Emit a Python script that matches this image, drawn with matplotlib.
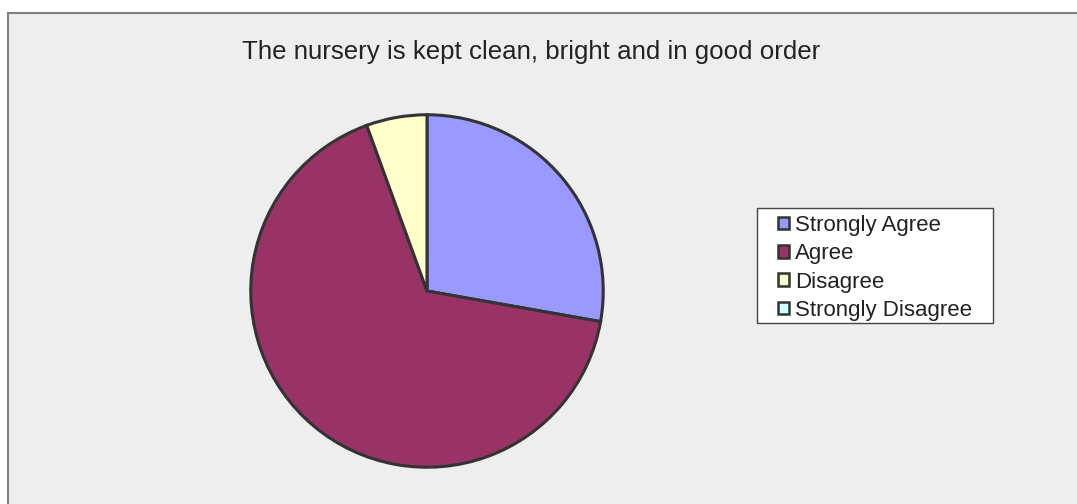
import matplotlib
matplotlib.use('Agg')
import matplotlib.pyplot as plt
from matplotlib.patches import Rectangle, Patch

plt.rcParams['font.family'] = ['Liberation Sans', 'DejaVu Sans']

# data
labels = ['Strongly Agree', 'Agree', 'Disagree', 'Strongly Disagree']
counts = [5, 12, 1, 0]
colors = ['#9999FF', '#993366', '#FFFFCC', '#CCFFFF']
title = 'The nursery is kept clean, bright and in good order'

W, H = 1077, 504
fig = plt.figure(figsize=(W / 100, H / 100), dpi=100)
fig.patch.set_facecolor('white')

# grey chart area
fig.patches.append(Rectangle((8 / W, -0.01), 1.0, (H - 13) / H + 0.01,
                             transform=fig.transFigure, facecolor='#EEEEEE',
                             edgecolor='#808080', linewidth=1.5, zorder=-5))

fig.text(531 / W, 1 - 52 / H, title, ha='center', va='center',
         fontsize=18.6, color='#222222')

# pie
cx, cy, r = 427, 291, 178
ax = fig.add_axes([(cx - r) / W, (H - cy - r) / H, 2 * r / W, 2 * r / H])
vals = [c for c in counts if c > 0]
cols = [colors[i] for i, c in enumerate(counts) if c > 0]
ax.pie(vals, colors=cols, startangle=90, counterclock=False, radius=1,
       wedgeprops=dict(edgecolor='#333333', linewidth=2.2))
ax.set_xlim(-1.01, 1.01)
ax.set_ylim(-1.01, 1.01)
ax.set_aspect('equal')
ax.axis('off')

# legend box
fig.patches.append(Rectangle((757 / W, 1 - 323 / H), (993 - 757) / W, 115 / H,
                             transform=fig.transFigure, facecolor='white',
                             edgecolor='#444444', linewidth=1, zorder=1))

handles = [Patch(facecolor=c, edgecolor='#333333', linewidth=1.8) for c in colors]
leg = fig.legend(handles, labels, loc='upper left',
                 bbox_to_anchor=(778 / W, 1 - 215 / H),
                 fontsize=16, frameon=False,
                 handlelength=0.5, handleheight=0.5, handletextpad=0.25,
                 labelspacing=0.33, borderpad=0, borderaxespad=0)
leg.set_zorder(3)
for t in leg.get_texts():
    t.set_color('#222222')

fig.savefig('out.png', dpi=100)
